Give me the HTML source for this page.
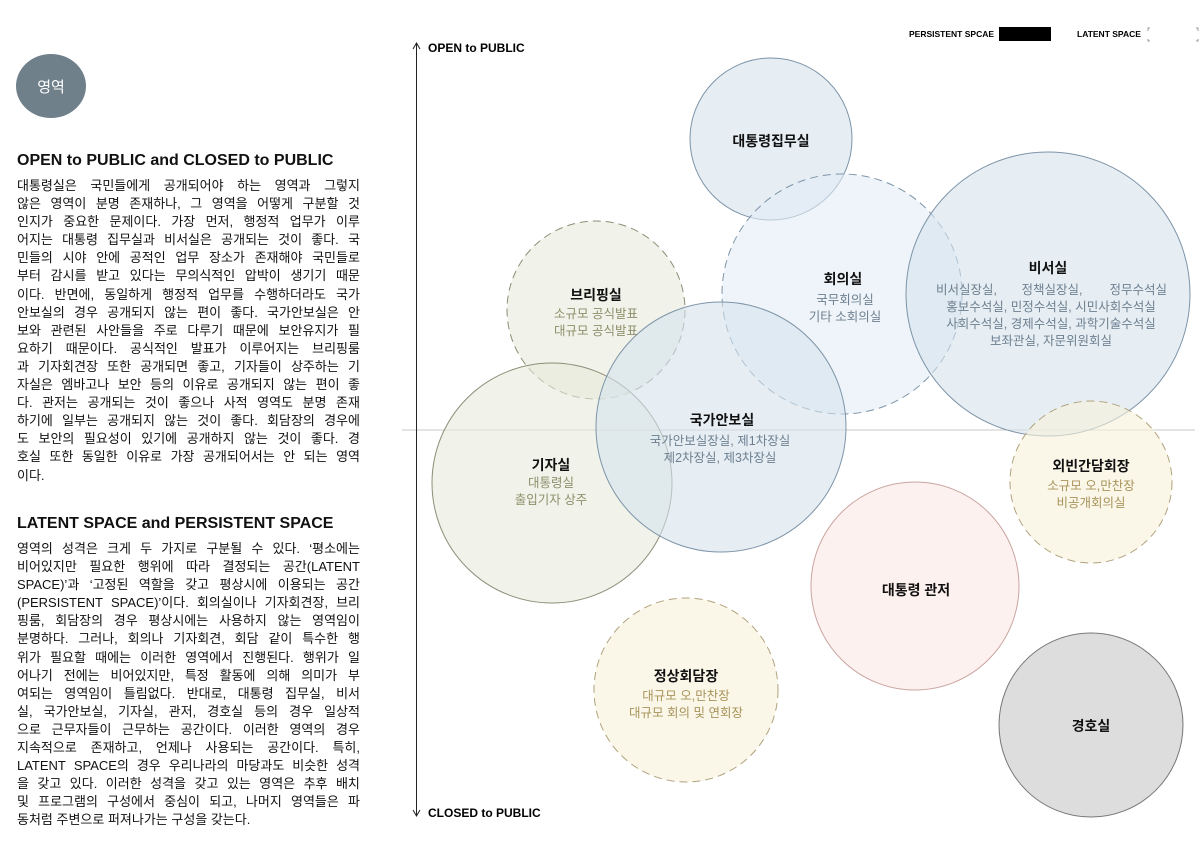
<!DOCTYPE html>
<html><head><meta charset="utf-8"><style>
*{margin:0;padding:0;box-sizing:border-box}
body{width:1200px;height:866px;background:#fff;position:relative;overflow:hidden;font-family:"Liberation Sans","Noto Sans CJK KR",sans-serif;color:#111}
.h{position:absolute;left:17px;font-size:16px;font-weight:bold;white-space:nowrap}
.p{position:absolute;left:17px;width:343px;font-size:13px;line-height:18.1px}
.p div{white-space:nowrap;height:18.1px;display:flex;justify-content:space-between}
.p div.l{justify-content:flex-start}
svg{position:absolute;left:0;top:0}
</style></head><body>
<svg width="1200" height="866" font-family="Liberation Sans, Noto Sans CJK KR, sans-serif">
<ellipse cx="51" cy="86" rx="35" ry="32" fill="#6f808b"/>
<text x="51" y="92" font-size="15" fill="#fff" text-anchor="middle">영역</text>
<line x1="402" y1="430" x2="1195" y2="430" stroke="#c8c8c8" stroke-width="1"/>
<line x1="416.5" y1="44" x2="416.5" y2="815" stroke="#222" stroke-width="1"/>
<polyline points="413,49 416.5,43 420,49" fill="none" stroke="#222"/>
<polyline points="413,810 416.5,816 420,810" fill="none" stroke="#222"/>
<text x="428" y="52" font-size="12" font-weight="bold">OPEN to PUBLIC</text>
<text x="428" y="817" font-size="12" font-weight="bold">CLOSED to PUBLIC</text>
<text x="909" y="37" font-size="8.5" font-weight="bold">PERSISTENT SPCAE</text>
<rect x="999" y="27" width="52" height="14" fill="#000"/>
<text x="1077" y="37" font-size="8.5" font-weight="bold">LATENT SPACE</text>
<path d="M1150,28 h-2 v3 M1148,39 v2 h2 M1196,28 h2 v3 M1198,39 v2 h-2" fill="none" stroke="#999" stroke-width="1"/>
<g fill-opacity="0.6">
<circle cx="771" cy="139" r="81" fill="#d5e2ec" stroke="#7d94a8" stroke-width="1"/>
<circle cx="842" cy="294" r="120" fill="#e2ecf5" stroke="#7d94a8" stroke-dasharray="8,5"/>
<circle cx="1048" cy="294" r="142" fill="#d5e2ec" stroke="#7d94a8"/>
<circle cx="596" cy="310" r="89" fill="#e8eadb" stroke="#8d8e78" stroke-dasharray="8,5"/>
<circle cx="552" cy="483" r="120" fill="#e8eadb" stroke="#8d8e78"/>
<circle cx="721" cy="427" r="125" fill="#d5e2ec" stroke="#7d94a8"/>
<circle cx="1091" cy="482" r="81" fill="#f7f1db" stroke="#b1a27d" stroke-dasharray="8,5"/>
<circle cx="915" cy="586" r="104" fill="#fbe7e5" stroke="#c9a4a0"/>
<circle cx="686" cy="690" r="92" fill="#f7f1db" stroke="#b1a27d" stroke-dasharray="8,5"/>
<circle cx="1091" cy="725" r="92" fill="#cfcfcf" stroke="#777" fill-opacity="0.7"/>
</g>
<g font-size="14" font-weight="bold" text-anchor="middle" fill="#111">
<text x="771" y="146">대통령집무실</text>
<text x="843" y="284">회의실</text>
<text x="1048" y="273">비서실</text>
<text x="596" y="300">브리핑실</text>
<text x="722" y="425">국가안보실</text>
<text x="551" y="470">기자실</text>
<text x="1091" y="471">외빈간담회장</text>
<text x="916" y="595">대통령 관저</text>
<text x="686" y="681">정상회담장</text>
<text x="1091" y="731">경호실</text>
</g>
<g font-size="12.5" text-anchor="middle" fill="#6d7f8f">
<text x="845" y="304">국무회의실</text><text x="845" y="321">기타 소회의실</text>
<text x="936" y="294" text-anchor="start">비서실장실,</text>
<text x="1052" y="294">정책실장실,</text>
<text x="1167" y="294" text-anchor="end">정무수석실</text>
<text x="1051" y="311">홍보수석실, 민정수석실, 시민사회수석실</text>
<text x="1051" y="328">사회수석실, 경제수석실, 과학기술수석실</text>
<text x="1051" y="345">보좌관실, 자문위원회실</text>
<text x="720" y="445">국가안보실장실, 제1차장실</text>
<text x="720" y="462">제2차장실, 제3차장실</text>
</g>
<g font-size="12.5" text-anchor="middle" fill="#8e8f6b">
<text x="596" y="318">소규모 공식발표</text><text x="596" y="335">대규모 공식발표</text>
<text x="551" y="487">대통령실</text><text x="551" y="504">출입기자 상주</text>
</g>
<g font-size="12.5" text-anchor="middle" fill="#a8935a">
<text x="1091" y="490">소규모 오,만찬장</text><text x="1091" y="507">비공개회의실</text>
<text x="686" y="700">대규모 오,만찬장</text><text x="686" y="717">대규모 회의 및 연회장</text>
</g>
</svg>
<div class="h" style="top:152px">OPEN to PUBLIC and CLOSED to PUBLIC</div>
<div class="p" style="top:177px">
<div><span>대통령실은</span><span>국민들에게</span><span>공개되어야</span><span>하는</span><span>영역과</span><span>그렇지</span></div>
<div><span>않은</span><span>영역이</span><span>분명</span><span>존재하나,</span><span>그</span><span>영역을</span><span>어떻게</span><span>구분할</span><span>것</span></div>
<div><span>인지가</span><span>중요한</span><span>문제이다.</span><span>가장</span><span>먼저,</span><span>행정적</span><span>업무가</span><span>이루</span></div>
<div><span>어지는</span><span>대통령</span><span>집무실과</span><span>비서실은</span><span>공개되는</span><span>것이</span><span>좋다.</span><span>국</span></div>
<div><span>민들의</span><span>시야</span><span>안에</span><span>공적인</span><span>업무</span><span>장소가</span><span>존재해야</span><span>국민들로</span></div>
<div><span>부터</span><span>감시를</span><span>받고</span><span>있다는</span><span>무의식적인</span><span>압박이</span><span>생기기</span><span>때문</span></div>
<div><span>이다.</span><span>반면에,</span><span>동일하게</span><span>행정적</span><span>업무를</span><span>수행하더라도</span><span>국가</span></div>
<div><span>안보실의</span><span>경우</span><span>공개되지</span><span>않는</span><span>편이</span><span>좋다.</span><span>국가안보실은</span><span>안</span></div>
<div><span>보와</span><span>관련된</span><span>사안들을</span><span>주로</span><span>다루기</span><span>때문에</span><span>보안유지가</span><span>필</span></div>
<div><span>요하기</span><span>때문이다.</span><span>공식적인</span><span>발표가</span><span>이루어지는</span><span>브리핑룸</span></div>
<div><span>과</span><span>기자회견장</span><span>또한</span><span>공개되면</span><span>좋고,</span><span>기자들이</span><span>상주하는</span><span>기</span></div>
<div><span>자실은</span><span>엠바고나</span><span>보안</span><span>등의</span><span>이유로</span><span>공개되지</span><span>않는</span><span>편이</span><span>좋</span></div>
<div><span>다.</span><span>관저는</span><span>공개되는</span><span>것이</span><span>좋으나</span><span>사적</span><span>영역도</span><span>분명</span><span>존재</span></div>
<div><span>하기에</span><span>일부는</span><span>공개되지</span><span>않는</span><span>것이</span><span>좋다.</span><span>회담장의</span><span>경우에</span></div>
<div><span>도</span><span>보안의</span><span>필요성이</span><span>있기에</span><span>공개하지</span><span>않는</span><span>것이</span><span>좋다.</span><span>경</span></div>
<div><span>호실</span><span>또한</span><span>동일한</span><span>이유로</span><span>가장</span><span>공개되어서는</span><span>안</span><span>되는</span><span>영역</span></div>
<div class="l"><span>이다.</span></div>
</div>
<div class="h" style="top:515px">LATENT SPACE and PERSISTENT SPACE</div>
<div class="p" style="top:540px">
<div><span>영역의</span><span>성격은</span><span>크게</span><span>두</span><span>가지로</span><span>구분될</span><span>수</span><span>있다.</span><span>‘평소에는</span></div>
<div><span>비어있지만</span><span>필요한</span><span>행위에</span><span>따라</span><span>결정되는</span><span>공간(LATENT</span></div>
<div><span>SPACE)’과</span><span>‘고정된</span><span>역할을</span><span>갖고</span><span>평상시에</span><span>이용되는</span><span>공간</span></div>
<div><span>(PERSISTENT</span><span>SPACE)’이다.</span><span>회의실이나</span><span>기자회견장,</span><span>브리</span></div>
<div><span>핑룸,</span><span>회담장의</span><span>경우</span><span>평상시에는</span><span>사용하지</span><span>않는</span><span>영역임이</span></div>
<div><span>분명하다.</span><span>그러나,</span><span>회의나</span><span>기자회견,</span><span>회담</span><span>같이</span><span>특수한</span><span>행</span></div>
<div><span>위가</span><span>필요할</span><span>때에는</span><span>이러한</span><span>영역에서</span><span>진행된다.</span><span>행위가</span><span>일</span></div>
<div><span>어나기</span><span>전에는</span><span>비어있지만,</span><span>특정</span><span>활동에</span><span>의해</span><span>의미가</span><span>부</span></div>
<div><span>여되는</span><span>영역임이</span><span>틀림없다.</span><span>반대로,</span><span>대통령</span><span>집무실,</span><span>비서</span></div>
<div><span>실,</span><span>국가안보실,</span><span>기자실,</span><span>관저,</span><span>경호실</span><span>등의</span><span>경우</span><span>일상적</span></div>
<div><span>으로</span><span>근무자들이</span><span>근무하는</span><span>공간이다.</span><span>이러한</span><span>영역의</span><span>경우</span></div>
<div><span>지속적으로</span><span>존재하고,</span><span>언제나</span><span>사용되는</span><span>공간이다.</span><span>특히,</span></div>
<div><span>LATENT</span><span>SPACE의</span><span>경우</span><span>우리나라의</span><span>마당과도</span><span>비슷한</span><span>성격</span></div>
<div><span>을</span><span>갖고</span><span>있다.</span><span>이러한</span><span>성격을</span><span>갖고</span><span>있는</span><span>영역은</span><span>추후</span><span>배치</span></div>
<div><span>및</span><span>프로그램의</span><span>구성에서</span><span>중심이</span><span>되고,</span><span>나머지</span><span>영역들은</span><span>파</span></div>
<div class="l"><span>동처럼 주변으로 퍼져나가는 구성을 갖는다.</span></div>
</div>
</body></html>
